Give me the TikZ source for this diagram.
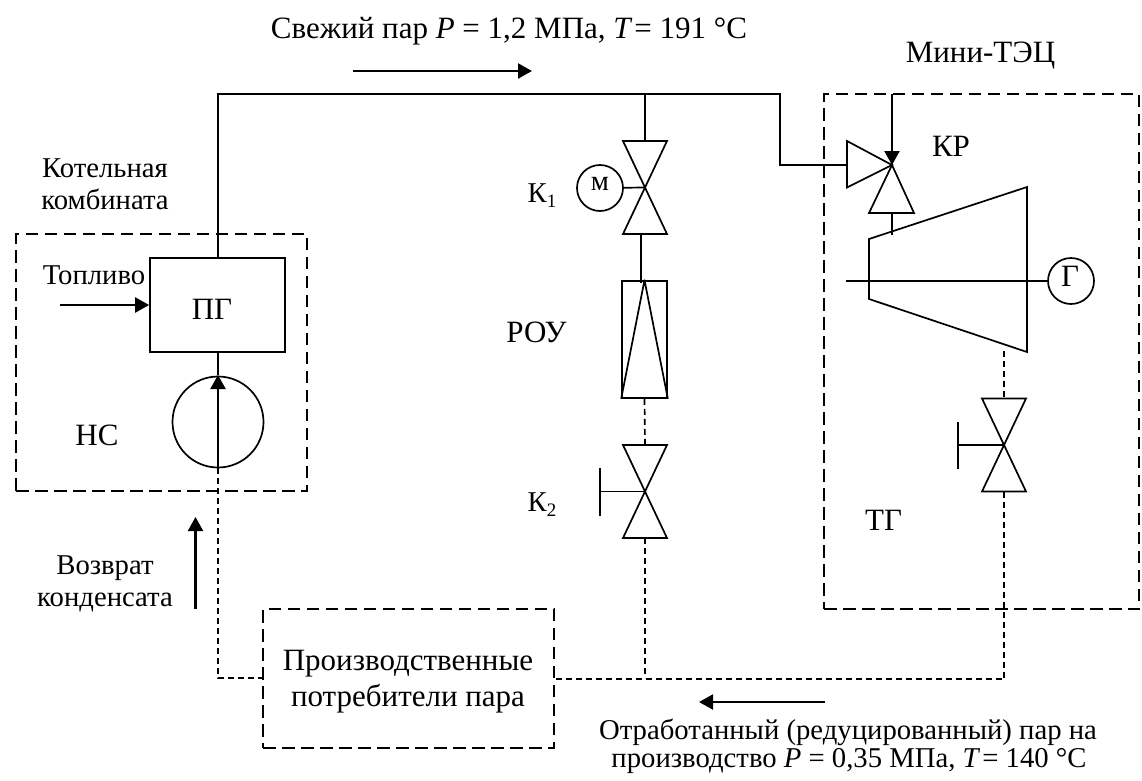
\documentclass[tikz,border=0pt]{standalone}
\usepackage{fontspec}
\setmainfont{Liberation Serif}
\usetikzlibrary{arrows.meta}
\newcommand{\fs}[1]{\fontsize{#1}{#1}\selectfont}
\tikzset{
  x=1pt,y=-1pt,
  ln/.style={line width=1.7pt,black},
  frame/.style={draw,line width=1.7pt,dash pattern=on 12.5pt off 6.5pt,inner sep=0pt},
  pipe/.style={line width=1.7pt,dash pattern=on 6pt off 4pt},
  flow/.style={line width=2.2pt,-{Triangle[length=14pt,width=15pt]}},
  lab/.style={inner sep=0pt,anchor=base,font=\fs{31}},
  sm/.style={inner sep=0pt,anchor=base,font=\fs{28.7}},
  ring/.style={circle,draw,line width=1.7pt,inner sep=0pt},
  block/.style={draw,line width=1.7pt,inner sep=0pt}
}
\newcommand{\valveV}[1]{\draw[ln,line join=miter] (#1) ++(-22,-46.5) -- ++(44,0) -- ++(-44,93) -- ++(44,0) -- cycle;}
\newcommand{\sbs}[1]{\raisebox{-5pt}{\fs{19}#1}}
\begin{document}
\begin{tikzpicture}
\useasboundingbox (0,0) rectangle (1142,780);
% frames
\node[frame,minimum width=291pt,minimum height=257pt] (boiler) at (161.5,362.5) {};
\node[frame,minimum width=315pt,minimum height=515pt] (chp) at (981.5,351.5) {};
\node[frame,minimum width=291pt,minimum height=139pt] (cons) at (408.5,678.5) {};
% boiler
\node[block,minimum width=135pt,minimum height=94pt] (pg) at (217.5,305) {};
\node[ring,minimum size=91pt] (pump) at (218,422) {};
\coordinate (top1) at (218,94);
\coordinate (pb) at (218,468);
\coordinate (ct) at (218,375);
\coordinate (jl) at (218,678);
\coordinate (f0) at (60,305);
\coordinate (bend) at (780,94);
\coordinate (bend2) at (780,165);
\draw[ln,line join=miter] (pg.north -| top1) -- (top1) -- (bend) -- (bend2) -- (847,165);
\draw[ln] (pg.south -| ct) -- (ct);
\draw[flow] (pb) -- (ct);
\draw[flow] (f0) -- (pg.west |- f0);
\draw[pipe] (pb) -- (jl) -- (cons.west |- jl);
% K1
\coordinate (k1) at (645,187.5);
\valveV{k1}
\node[ring,minimum size=46pt] (mot) at (600,188) {};
\draw[ln] (mot) -- (k1);
\draw[ln] (645,94) -- (645,141);
\draw[ln] (641,234) -- (641,283);
% ROU
\node[block,minimum width=45pt,minimum height=117pt] (rou) at (644.5,339.5) {};
\draw[ln,line join=round] (rou.south west) -- (rou.north) -- (rou.south east);
% K2
\coordinate (k2) at (645,491.5);
\valveV{k2}
\draw[ln] (k2) -- (600,491.5);
\draw[ln] (600,468) -- (600,516);
\draw[pipe] (rou.south) -- (645,445);
\coordinate (j2) at (645,678);
\draw[pipe] (645,538) -- (j2);
% KR valve
\coordinate (kr) at (892,165);
\draw[ln,line join=miter] (kr) -- (847,141) -- (847,187.5) -- cycle;
\draw[ln,line join=miter] (kr) -- (869,213) -- (914,213) -- cycle;
\draw[flow] (892,94) -- (kr);
\draw[ln] (892,213) -- (892,235);
% turbine
\draw[ln,line join=miter] (869,239) -- (1027,187) -- (1027,352) -- (869,299) -- cycle;
\node[ring,minimum size=46pt] (gen) at (1071,281) {};
\draw[ln] (846,281) -- (gen);
% turbine exhaust valve
\coordinate (k3) at (1004,445);
\valveV{k3}
\draw[ln] (k3) -- (958,445);
\draw[ln] (958,422) -- (958,469);
\coordinate (j3) at (1004,679);
\draw[pipe] (1004,351) -- (1004,398.5);
\draw[pipe] (1004,491.5) -- (j3) -- (cons.east |- j3);
% arrows
\coordinate (a1) at (353,71); \coordinate (a2) at (532,71);
\draw[flow] (a1) -- (a2);
\coordinate (b1) at (195.5,609); \coordinate (b2) at (195.5,517);
\draw[flow] (b1) -- (b2);
\coordinate (c1) at (825,702); \coordinate (c2) at (699,702);
\draw[flow] (c1) -- (c2);
% labels
\node[lab] (t1) at (509,38) {Свежий пар \textit{P} = 1,2 МПа, \textit{T}\kern2pt= 191 °C};
\node[lab] (t2) at (980.5,62) {Мини-ТЭЦ};
\node[sm] (t3a) at (105,177) {Котельная};
\node[sm] (t3b) at (105,209) {комбината};
\node[sm] (t4) at (94,284) {Топливо};
\node[lab] (t4b) at (212,319) {ПГ};
\node[lab] (t5) at (97,445) {НС};
\node[sm] (t6) at (542,202) {К\sbs{1}};
\node[sm] (t6b) at (600,190) {м};
\node[lab] (t7) at (536.5,342) {РОУ};
\node[sm] (t8) at (542,511) {К\sbs{2}};
\node[lab] (t9) at (951,156) {КР};
\node[lab] (t9b) at (1070,286) {Г};
\node[lab] (t10) at (883.5,530) {ТГ};
\node[sm] (t11a) at (105,574) {Возврат};
\node[sm] (t11b) at (105,606) {конденсата};
\node[lab] (t13) at (408,670) {Производственные};
\node[lab] (t14) at (408,706) {потребители пара};
\node[sm] (t12a) at (848,739) {Отработанный (редуцированный) пар на};
\node[sm] (t12b) at (849,767) {производство \textit{P} = 0,35 МПа, \textit{T}\kern2pt= 140 °C};
\end{tikzpicture}
\end{document}
